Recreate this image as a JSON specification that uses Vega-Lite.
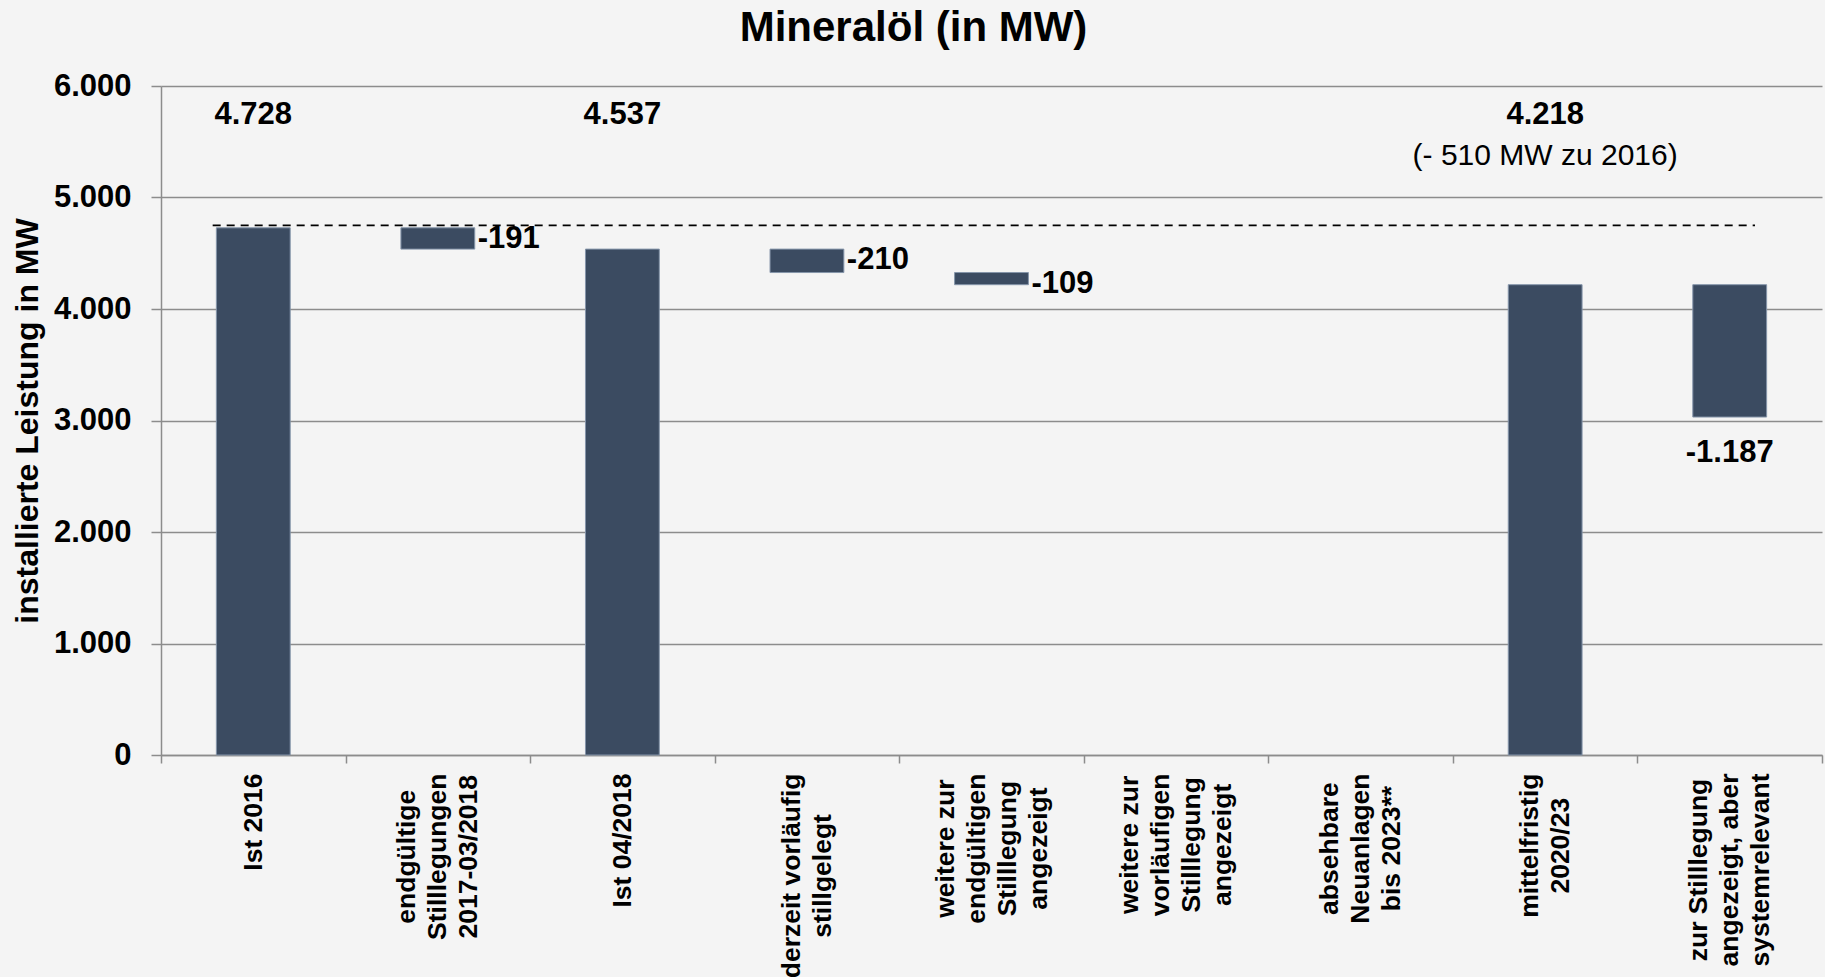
{
  "$schema": "https://vega.github.io/schema/vega-lite/v6.json",
  "autosize": "none",
  "width": 1661,
  "height": 669,
  "padding": {"left": 161, "top": 86, "right": 3, "bottom": 222},
  "background": "#f4f4f4",
  "title": {
    "text": "Mineralöl (in MW)",
    "font": "Liberation Sans",
    "fontSize": 42,
    "fontWeight": "bold",
    "color": "#000000",
    "anchor": "middle",
    "frame": "group",
    "dx": -78,
    "offset": 20
  },
  "config": {
    "font": "Liberation Sans",
    "view": {"stroke": null},
    "locale": {
      "number": {"decimal": ",", "thousands": ".", "grouping": [3], "currency": ["", " €"], "minus": "-"}
    }
  },
  "data": {
    "values": [
      {"kat": "Ist 2016", "typ": "Bestand", "oben": 4728, "unten": 0, "wert": 4728},
      {"kat": "endgültige\nStilllegungen\n2017-03/2018", "typ": "Abgang", "oben": 4728, "unten": 4537, "wert": -191},
      {"kat": "Ist 04/2018", "typ": "Bestand", "oben": 4537, "unten": 0, "wert": 4537},
      {"kat": "derzeit vorläufig\nstillgelegt", "typ": "Abgang", "oben": 4537, "unten": 4327, "wert": -210},
      {"kat": "weitere zur\nendgültigen\nStilllegung\nangezeigt", "typ": "Abgang", "oben": 4327, "unten": 4218, "wert": -109},
      {"kat": "weitere zur\nvorläufigen\nStilllegung\nangezeigt", "typ": "leer", "oben": null, "unten": null, "wert": null},
      {"kat": "absehbare\nNeuanlagen\nbis 2023**", "typ": "leer", "oben": null, "unten": null, "wert": null},
      {"kat": "mittelfristig\n2020/23", "typ": "Bestand", "oben": 4218, "unten": 0, "wert": 4218, "anmerkung": "(- 510 MW zu 2016)"},
      {"kat": "zur Stilllegung\nangezeigt, aber\nsystemrelevant", "typ": "systemrelevant", "oben": 4218, "unten": 3031, "wert": -1187}
    ]
  },
  "encoding": {
    "x": {
      "field": "kat",
      "type": "nominal",
      "sort": null,
      "scale": {
        "domain": [
          "Ist 2016",
          "endgültige\nStilllegungen\n2017-03/2018",
          "Ist 04/2018",
          "derzeit vorläufig\nstillgelegt",
          "weitere zur\nendgültigen\nStilllegung\nangezeigt",
          "weitere zur\nvorläufigen\nStilllegung\nangezeigt",
          "absehbare\nNeuanlagen\nbis 2023**",
          "mittelfristig\n2020/23",
          "zur Stilllegung\nangezeigt, aber\nsystemrelevant"
        ],
        "paddingInner": 0,
        "paddingOuter": 0
      },
      "axis": {
        "title": null,
        "labelExpr": "isValid(datum.value) ? split(datum.value, '\\n') : ''",
        "labelAngle": 270,
        "labelAlign": "center",
        "labelBaseline": "middle",
        "labelFontSize": 26.5,
        "labelFontWeight": "bold",
        "labelColor": "#000000",
        "labelLineHeight": 31,
        "labelLimit": 600,
        "labelOverlap": false,
        "labelOffset": {
          "condition": [
            {"test": "isValid(datum.value) && length(split(datum.value, '\\n')) == 2", "value": -15.5},
            {"test": "isValid(datum.value) && length(split(datum.value, '\\n')) == 3", "value": -31},
            {"test": "isValid(datum.value) && length(split(datum.value, '\\n')) == 4", "value": -46.5}
          ],
          "value": 0
        },
        "labelPadding": {
          "condition": [
            {"test": "datum.value === 'Ist 2016'", "value": 58.6},
            {"test": "datum.value === 'endgültige\\nStilllegungen\\n2017-03/2018'", "value": 93.2},
            {"test": "datum.value === 'Ist 04/2018'", "value": 77},
            {"test": "datum.value === 'derzeit vorläufig\\nstillgelegt'", "value": 112.4},
            {"test": "datum.value === 'weitere zur\\nendgültigen\\nStilllegung\\nangezeigt'", "value": 85.1},
            {"test": "datum.value === 'weitere zur\\nvorläufigen\\nStilllegung\\nangezeigt'", "value": 81.4},
            {"test": "datum.value === 'absehbare\\nNeuanlagen\\nbis 2023**'", "value": 85.1},
            {"test": "datum.value === 'mittelfristig\\n2020/23'", "value": 82.2},
            {"test": "datum.value === 'zur Stilllegung\\nangezeigt, aber\\nsystemrelevant'", "value": 106.5}
          ],
          "value": 10
        },
        "tickSize": 8,
        "tickBand": "extent",
        "tickColor": "#8c8c8c",
        "tickWidth": 1.5,
        "domainColor": "#8c8c8c",
        "domainWidth": 1.5,
        "grid": false
      }
    }
  },
  "layer": [
    {
      "mark": {"type": "bar", "color": "#3b4b61", "stroke": "#8595aa", "strokeWidth": 1, "width": {"band": 0.4}},
      "encoding": {
        "y": {
          "field": "oben",
          "type": "quantitative",
          "scale": {"domain": [0, 6000], "nice": false},
          "axis": {
            "title": "installierte Leistung in MW",
            "values": [0, 1000, 2000, 3000, 4000, 5000, 6000],
            "format": ",d",
            "labelFontSize": 31,
            "labelFontWeight": "bold",
            "labelColor": "#000000",
            "labelPadding": 20,
            "tickSize": 10,
            "tickColor": "#8c8c8c",
            "tickWidth": 1.5,
            "domainColor": "#8c8c8c",
            "domainWidth": 1.5,
            "grid": true,
            "gridColor": "#8c8c8c",
            "gridWidth": 1.5,
            "titleFontSize": 32,
            "titleFontWeight": "bold",
            "titleColor": "#000000",
            "titlePadding": 9
          }
        },
        "y2": {"field": "unten"}
      }
    },
    {
      "data": {"values": [{"von": "Ist 2016", "bis": "zur Stilllegung\nangezeigt, aber\nsystemrelevant", "niveau": 4728}]},
      "mark": {"type": "rule", "color": "#000000", "strokeWidth": 1.8, "strokeDash": [8, 6], "yOffset": -2.5},
      "encoding": {
        "x": {"field": "von", "type": "nominal", "bandPosition": 0.28},
        "x2": {"field": "bis", "bandPosition": 0.637},
        "y": {"field": "niveau", "type": "quantitative"}
      }
    },
    {
      "transform": [{"filter": "datum.typ === 'Bestand'"}],
      "mark": {"type": "text", "fontSize": 31, "fontWeight": "bold", "color": "#000000", "baseline": "alphabetic", "align": "center"},
      "encoding": {
        "text": {"field": "wert", "type": "quantitative", "format": ",d"},
        "y": {"datum": 5660, "type": "quantitative"}
      }
    },
    {
      "transform": [{"filter": "isValid(datum.anmerkung)"}],
      "mark": {"type": "text", "fontSize": 30, "fontWeight": "normal", "color": "#000000", "baseline": "alphabetic", "align": "center"},
      "encoding": {
        "text": {"field": "anmerkung", "type": "nominal"},
        "y": {"datum": 5287, "type": "quantitative"}
      }
    },
    {
      "transform": [{"filter": "datum.typ === 'Abgang'"}],
      "mark": {"type": "text", "fontSize": 31, "fontWeight": "bold", "color": "#000000", "baseline": "middle", "align": "left", "dx": 3, "dy": 11},
      "encoding": {
        "x": {"field": "kat", "type": "nominal", "bandPosition": 0.7},
        "text": {"field": "wert", "type": "quantitative", "format": ",d"},
        "y": {"field": "oben", "type": "quantitative"}
      }
    },
    {
      "transform": [{"filter": "datum.typ === 'systemrelevant'"}],
      "mark": {"type": "text", "fontSize": 31, "fontWeight": "bold", "color": "#000000", "baseline": "top", "align": "center", "dy": 21},
      "encoding": {
        "text": {"field": "wert", "type": "quantitative", "format": ",d"},
        "y": {"field": "unten", "type": "quantitative"}
      }
    }
  ]
}
